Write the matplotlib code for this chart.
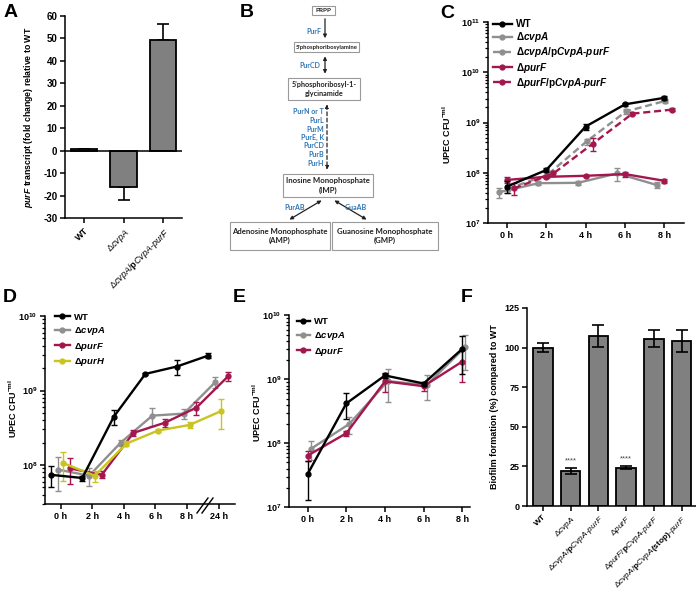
import numpy as np
import matplotlib
matplotlib.use('Agg')
import matplotlib.pyplot as plt
from matplotlib.lines import Line2D
from matplotlib.patches import Rectangle
from matplotlib.ticker import FuncFormatter, LogLocator, NullFormatter

plt.rcParams['font.family'] = ['Liberation Sans', 'DejaVu Sans']
plt.rcParams['mathtext.fontset'] = 'custom'
plt.rcParams['mathtext.rm'] = 'Liberation Sans'
plt.rcParams['mathtext.it'] = 'Liberation Sans:italic'
plt.rcParams['mathtext.bf'] = 'Liberation Sans:bold'
plt.rcParams['mathtext.bfit'] = 'Liberation Sans:italic:bold'
plt.rcParams['axes.unicode_minus'] = False

# ---- data ----
# A: purF transcript fold change
a_strains = ['WT', 'Δ$\\mathit{cvpA}$',
             'Δ$\\mathit{cvpA}$/$\\mathbf{p}$$\\mathit{CvpA}$-$\\mathit{purF}$']
a_fold = [1, -16, 49]
a_sd = [0, 6, 7.5]

# B: purine pathway
b_steps = ['PRPP', "5'phosphoribosylamine", "5'phosphoribosyl-1-\nglycinamide",
           'Inosine Monophosphate\n(IMP)', 'Adenosine Monophosphate\n(AMP)',
           'Guanosine Monophosphate\n(GMP)']
b_enz_top = ['PurF', 'PurCD']
b_enz_mid = ['PurN or T', 'PurL', 'PurM', 'PurE, K', 'PurCD', 'PurB', 'PurH']
b_enz_low = ['PurAB', 'GuaAB']

# C: growth, hours
c_hours = [0, 2, 4, 6, 8]
c_wt = [5.3e7, 1.13e8, 8.3e8, 2.3e9, 3.1e9]
c_wt_sd = [1.4e7, 1.0e7, 1.2e8, 2.0e8, 3.0e8]
c_cvpa = [4.1e7, 6.2e7, 6.3e7, 9.7e7, 5.7e7]
c_cvpa_sd = [9e6, 5e6, 7e6, 2.8e7, 8e6]
c_cvpa_comp = [4.8e7, 9.0e7, 4.2e8, 1.66e9, 2.7e9]
c_cvpa_comp_sd = [8e6, 1e7, 6e7, 2e8, 2e8]
c_purf = [7.2e7, 8.3e7, 8.7e7, 9.4e7, 6.9e7]
c_purf_sd = [1e7, 6e6, 5e6, 1e7, 6e6]
c_purf_comp = [4.9e7, 9.7e7, 3.8e8, 1.5e9, 1.8e9]
c_purf_comp_sd = [1.3e7, 1.2e7, 1.1e8, 1.2e8, 1e8]

# D: growth with 24 h point
d_labels = ['0 h', '2 h', '4 h', '6 h', '8 h', '24 h']
d_wt = [7.4e7, 6.7e7, 4.45e8, 1.67e9, 2.1e9, 2.95e9]
d_wt_sd = [2.3e7, 5e6, 1.0e8, 5e7, 5e8, 2.5e8]
d_cvpa = [8.7e7, 7.2e7, 2.0e8, 4.6e8, 4.9e8, 1.3e9]
d_cvpa_sd = [4.2e7, 2e7, 2e7, 1.3e8, 8e7, 2.2e8]
d_purf = [9e7, 7.4e7, 2.7e8, 3.7e8, 5.9e8, 1.55e9]
d_purf_sd = [3.5e7, 8e6, 2.5e7, 4.5e7, 1.2e8, 2e8]
d_purh = [1.06e8, 7.2e7, 1.94e8, 2.9e8, 3.45e8, 5.3e8]
d_purh_sd = [4.5e7, 1.2e7, 1.5e7, 1e7, 3.5e7, 2.3e8]

# E
e_hours = [0, 2, 4, 6, 8]
e_wt = [3.3e7, 4.2e8, 1.15e9, 8.6e8, 3.0e9]
e_wt_sd = [2.0e7, 1.8e8, 9e7, 6e7, 1.8e9]
e_cvpa = [8.1e7, 2.0e8, 9.4e8, 8.1e8, 3.2e9]
e_cvpa_sd = [2.7e7, 6e7, 5e8, 3.4e8, 1.8e9]
e_purf = [6.4e7, 1.43e8, 9.3e8, 7.8e8, 1.9e9]
e_purf_sd = [1.2e7, 1.2e7, 3e8, 1.2e8, 1.0e9]

# F: biofilm
f_strains = ['WT', 'Δ$\\mathit{cvpA}$',
             'Δ$\\mathit{cvpA}$/$\\mathbf{p}$$\\mathit{CvpA}$-$\\mathit{purF}$',
             'Δ$\\mathit{purF}$',
             'Δ$\\mathit{purF}$/$\\mathbf{p}$$\\mathit{CvpA}$-$\\mathit{purF}$',
             'Δ$\\mathit{cvpA}$/$\\mathbf{p}$$\\mathit{CvpA}$$\\mathbf{(stop)}$-$\\mathit{purF}$']
f_biofilm = [100, 22, 107.5, 24.3, 105.5, 104]
f_sd = [3, 2, 7, 1, 5.3, 7]
f_signif = ['', '****', '', '****', '', '']

BLACK = 'black'
GREY = '#8f8f8f'
RED = '#a3174f'
YELLOW = '#c9c420'
BAR = '#808080'

W, H = 696, 599
fig = plt.figure(figsize=(W / 100, H / 100), dpi=100)


def px_axes(l, t, r, b):
    return fig.add_axes([l / W, 1 - b / H, (r - l) / W, (b - t) / H])


def ftext(x, y, s, **kw):
    fig.text(x / W, 1 - y / H, s, **kw)


def style(ax):
    for s in ['top', 'right']:
        ax.spines[s].set_visible(False)
    for s in ['left', 'bottom']:
        ax.spines[s].set_linewidth(1.1)
    ax.tick_params(width=1.1, length=3.5, labelsize=6.5, pad=2)


def log_axis(ax, lo, hi):
    ax.set_yscale('log')
    ax.set_ylim(lo, hi)
    ax.yaxis.set_major_locator(LogLocator(base=10, numticks=10))
    ax.yaxis.set_minor_locator(LogLocator(base=10, subs=np.arange(2, 10), numticks=20))
    ax.yaxis.set_minor_formatter(NullFormatter())
    ax.yaxis.set_major_formatter(FuncFormatter(
        lambda v, p: r'$\mathbf{10^{%d}}$' % round(np.log10(v))))
    ax.tick_params(axis='y', which='minor', width=0.9, length=2)


def growth(ax, x, y, sd, color, ls='-', z=3):
    ax.errorbar(x, y, yerr=sd, color=color, ls=ls, lw=1.7, marker='o', ms=3.5,
                capsize=2.2, elinewidth=1.0, capthick=1.0, zorder=z, clip_on=False)


def bold_ticks(ax, axis='both'):
    labs = []
    if axis in ('x', 'both'):
        labs += ax.get_xticklabels()
    if axis in ('y', 'both'):
        labs += ax.get_yticklabels()
    for t in labs:
        t.set_fontweight('bold')


def legend(ax, handles, labels, x, y, fs, hl, sp=0.38):
    ax.legend(handles, labels, loc='upper left', bbox_to_anchor=(x / W, 1 - y / H),
              bbox_transform=fig.transFigure, frameon=False, fontsize=fs,
              handlelength=hl, handletextpad=0.45, labelspacing=sp, borderpad=0,
              borderaxespad=0, prop={'weight': 'bold', 'size': fs})


def handle(color, ls='-'):
    return Line2D([], [], color=color, ls=ls, lw=1.7, marker='o', ms=3.5)


# ---- A ----
axA = px_axes(65, 15.7, 182, 218.3)
style(axA)
xa = np.arange(len(a_fold))
lo = [s if v < 0 else 0 for v, s in zip(a_fold, a_sd)]
hi = [s if v >= 0 else 0 for v, s in zip(a_fold, a_sd)]
axA.bar(xa, a_fold, width=0.68, color=BAR, edgecolor='black', lw=1.3, zorder=2)
axA.errorbar(xa, a_fold, yerr=[lo, hi], fmt='none', ecolor='black', elinewidth=1.2,
             capsize=4, capthick=1.2, zorder=1)
axA.axhline(0, color='black', lw=1.1, zorder=3)
axA.set_xlim(-0.48, 2.48)
axA.set_ylim(-30, 60)
axA.set_yticks(np.arange(-30, 61, 10))
axA.set_xticks(xa)
axA.set_xticklabels(a_strains, rotation=45, ha='right', rotation_mode='anchor', fontsize=6.5)
axA.tick_params(axis='y', labelsize=7)
bold_ticks(axA, 'y')
axA.get_xticklabels()[0].set_fontweight('bold')
axA.set_ylabel('$\\mathbfit{purF}$ transcript (fold change) relative to WT',
               fontsize=6.3, fontweight='bold')
axA.yaxis.set_label_coords((35 - 65) / 117, 0.5)

# ---- C ----
axC = px_axes(488, 22, 684, 223)
style(axC)
log_axis(axC, 1e7, 1e11)
hc = np.array(c_hours, float)
growth(axC, hc - 0.39, c_cvpa, c_cvpa_sd, GREY, z=3)
growth(axC, hc + 0.05, c_cvpa_comp, c_cvpa_comp_sd, GREY, ls=(0, (3, 1.6)), z=3)
growth(axC, hc, c_purf, c_purf_sd, RED, z=4)
growth(axC, hc + 0.37, c_purf_comp, c_purf_comp_sd, RED, ls=(0, (3, 1.6)), z=4)
growth(axC, hc, c_wt, c_wt_sd, BLACK, z=5)
axC.set_xlim(-0.95, 8.99)
axC.set_xticks(c_hours)
axC.set_xticklabels(['%d h' % h for h in c_hours])
bold_ticks(axC, 'x')
legend(axC, [handle(BLACK), handle(GREY), handle(GREY, (0, (3, 1.6))), handle(RED),
             handle(RED, (0, (3, 1.6)))],
       ['WT', 'Δ$\\mathbfit{cvpA}$',
        'Δ$\\mathbfit{cvpA}$/p$\\mathbfit{CvpA}$-$\\mathbfit{purF}$',
        'Δ$\\mathbfit{purF}$',
        'Δ$\\mathbfit{purF}$/p$\\mathbfit{CvpA}$-$\\mathbfit{purF}$'],
       493, 19, 7.2, 1.85, sp=0.12)
ftext(447, 135, 'UPEC CFU$^{\\mathbf{-ml}}$', rotation=90, ha='center', va='center',
      fontsize=6.5, fontweight='bold')

# ---- D ----
axD = px_axes(45, 316, 235, 504)
style(axD)
log_axis(axD, 3e7, 1e10)
xd = np.arange(len(d_labels), dtype=float)
growth(axD, xd - 0.1, d_cvpa, d_cvpa_sd, GREY, z=3)
growth(axD, xd + 0.3, d_purf, d_purf_sd, RED, z=4)
growth(axD, xd + 0.08, d_purh, d_purh_sd, YELLOW, z=5)
growth(axD, xd - 0.32, d_wt, d_wt_sd, BLACK, z=6)
axD.set_xlim(-0.5, 5.52)
axD.set_xticks(xd)
axD.set_xticklabels(d_labels)
bold_ticks(axD, 'x')
legend(axD, [handle(BLACK), handle(GREY), handle(RED), handle(YELLOW)],
       ['WT', 'Δ$\\mathbfit{cvpA}$', 'Δ$\\mathbfit{purF}$', 'Δ$\\mathbfit{purH}$'],
       55, 312.5, 6.8, 1.55)
ftext(13, 409, 'UPEC CFU$^{\\mathbf{-ml}}$', rotation=90, ha='center', va='center',
      fontsize=6.5, fontweight='bold')

# ---- E ----
axE = px_axes(289, 315.5, 470, 507)
style(axE)
log_axis(axE, 1e7, 1e10)
he = np.array(e_hours, float)
growth(axE, he + 0.15, e_cvpa, e_cvpa_sd, GREY, z=3)
growth(axE, he, e_purf, e_purf_sd, RED, z=4)
growth(axE, he, e_wt, e_wt_sd, BLACK, z=5)
axE.set_xlim(-0.97, 8.4)
axE.set_xticks(e_hours)
axE.set_xticklabels(['%d h' % h for h in e_hours])
bold_ticks(axE, 'x')
legend(axE, [handle(BLACK), handle(GREY), handle(RED)],
       ['WT', 'Δ$\\mathbfit{cvpA}$', 'Δ$\\mathbfit{purF}$'], 297, 317.5, 6.8, 1.35)
ftext(257, 413, 'UPEC CFU$^{\\mathbf{-ml}}$', rotation=90, ha='center', va='center',
      fontsize=6.5, fontweight='bold')

# ---- F ----
axF = px_axes(527, 308, 696, 506)
style(axF)
xf = np.arange(len(f_biofilm))
axF.bar(xf, f_biofilm, width=0.7, color=BAR, edgecolor='black', lw=1.3, zorder=2)
axF.errorbar(xf, f_biofilm, yerr=f_sd, fmt='none', ecolor='black', elinewidth=1.2,
             capsize=4, capthick=1.2, zorder=3)
for i, s in enumerate(f_signif):
    if s:
        axF.text(xf[i], f_biofilm[i] + f_sd[i] + 2, s, ha='center', va='bottom',
                 fontsize=5.5, color='#444444')
axF.set_xlim(-0.58, 5.52)
axF.set_ylim(0, 125)
axF.set_yticks(np.arange(0, 126, 25))
axF.set_xticks(xf)
axF.set_xticklabels(f_strains, rotation=45, ha='right', rotation_mode='anchor', fontsize=6)
bold_ticks(axF, 'y')
axF.get_xticklabels()[0].set_fontweight('bold')
axF.set_ylabel('Biofilm formation (%) compared to WT', fontsize=6.5, fontweight='bold')
axF.yaxis.set_label_coords((499 - 527) / 169, 0.5)

# ---- overlay: panel B, letters, axis break ----
ov = fig.add_axes([0, 0, 1, 1])
ov.set_xlim(0, W)
ov.set_ylim(H, 0)
ov.axis('off')
ov.patch.set_alpha(0)

boxes = [(312, 6, 335, 15), (294, 42, 359, 52), (288, 78, 360, 100),
         (283, 174, 373, 197), (230, 222, 330, 250), (332, 222, 438, 250)]
sizes = [4.6, 4.3, 5.2, 5.6, 5.6, 5.6]
for (l, t, r, b), s, fs in zip(boxes, b_steps, sizes):
    ov.add_patch(Rectangle((l, t), r - l, b - t, fill=False, ec='#9a9a9a', lw=0.8))
    ov.text((l + r) / 2, (t + b) / 2, s, ha='center', va='center', fontsize=fs,
            fontweight='bold', color='#222222', linespacing=1.4, family='Lato')

arr = dict(arrowstyle='-|>', color='#222222', lw=0.9, mutation_scale=5)
arr2 = dict(arrowstyle='<|-|>', color='#222222', lw=0.9, mutation_scale=5)
ov.annotate('', xy=(325, 41), xytext=(325, 16), arrowprops=arr)
ov.annotate('', xy=(325, 76.5), xytext=(325, 53.5), arrowprops=arr2)
ov.annotate('', xy=(327, 172.5), xytext=(327, 101.5),
            arrowprops=dict(arr2, ls=(0, (3, 2))))
ov.annotate('', xy=(287, 221), xytext=(324, 199), arrowprops=arr2)
ov.annotate('', xy=(369, 221), xytext=(332, 199), arrowprops=arr2)

BLUE = '#2e75b6'
fs_enz = 5.0
ov.text(321, 31, b_enz_top[0], ha='right', va='center', fontsize=fs_enz, color=BLUE,
        fontweight='bold', family='Lato')
ov.text(320, 65, b_enz_top[1], ha='right', va='center', fontsize=fs_enz, color=BLUE,
        fontweight='bold', family='Lato')
for i, s in enumerate(b_enz_mid):
    ov.text(324, 112 + i * 8.5, s, ha='right', va='center', fontsize=fs_enz, color=BLUE,
            fontweight='bold', family='Lato')
ov.text(295, 207, b_enz_low[0], ha='center', va='center', fontsize=fs_enz, color=BLUE,
        fontweight='bold', family='Lato')
ov.text(356, 207, b_enz_low[1], ha='center', va='center', fontsize=fs_enz, color=BLUE,
        fontweight='bold', family='Lato')

# axis break marks in D
for dx in (0, 5):
    ov.plot([197 + dx, 208 + dx], [513, 498], color='black', lw=1.0)

for letter, x, y in [('A', 4, 4), ('B', 240, 4), ('C', 440, 5),
                     ('D', 3, 289), ('E', 233, 289), ('F', 461, 289)]:
    ov.text(x, y, letter, ha='left', va='top', fontsize=14, fontweight='bold')

fig.savefig('out.png', dpi=100)
